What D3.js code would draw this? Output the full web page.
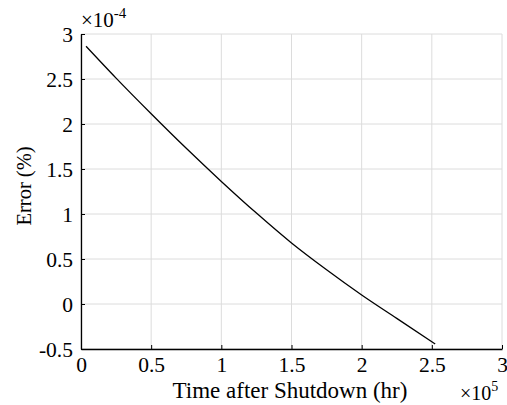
<!DOCTYPE html>
<html>
<head>
<meta charset="utf-8">
<script src="https://cdn.jsdelivr.net/npm/d3@7"></script>
<style>
  body { margin: 0; background: #fff; }
</style>
</head>
<body>
<div id="chart"></div>
<script>
var width = 507
var height = 405
var serif = "'Liberation Serif', 'Times New Roman', 'DejaVu Serif', serif"

// time after shutdown, units of 1e5 hr
var timeVals = [0.036, 0.25, 0.5, 0.75, 1.0, 1.25, 1.5, 1.75, 2.0, 2.25, 2.524]
// error, units of 1e-4 %
var errVals = [2.864, 2.51, 2.114, 1.73, 1.362, 1.01, 0.678, 0.38, 0.10, -0.16, -0.444]

var xTicks = [0, 0.5, 1, 1.5, 2, 2.5, 3]
var yTicks = [-0.5, 0, 0.5, 1, 1.5, 2, 2.5, 3]

var margin = {left: 81, right: 5, top: 34, bottom: 56}

var x = d3.scaleLinear().domain([0, 3]).range([margin.left, width - margin.right])
var y = d3.scaleLinear().domain([-0.5, 3]).range([height - margin.bottom, margin.top])

var svg = d3.select("#chart")
    .append("svg")
        .attr("width", width)
        .attr("height", height)
        .style("font-family", serif)

// grid
svg.append("g")
    .selectAll("line")
    .data(xTicks)
    .enter().append("line")
        .attr("x1", function(d) { return x(d) }).attr("x2", function(d) { return x(d) })
        .attr("y1", y(-0.5)).attr("y2", y(3))
        .attr("stroke", "#dcdcdc")
        .attr("stroke-width", 1)
svg.append("g")
    .selectAll("line")
    .data(yTicks)
    .enter().append("line")
        .attr("y1", function(d) { return y(d) }).attr("y2", function(d) { return y(d) })
        .attr("x1", x(0)).attr("x2", x(3))
        .attr("stroke", "#dcdcdc")
        .attr("stroke-width", 1)

// axes (ticks point inward)
var fmt = function(d) { return d === -0.5 ? "-0.5" : String(d) }

var xAxis = svg.append("g")
    .attr("transform", "translate(0," + y(-0.5) + ")")
    .call(d3.axisBottom(x).tickValues(xTicks).tickFormat(fmt).tickSizeInner(-4).tickSizeOuter(0).tickPadding(8))
var yAxis = svg.append("g")
    .attr("transform", "translate(" + x(0) + ",0)")
    .call(d3.axisLeft(y).tickValues(yTicks).tickFormat(fmt).tickSizeInner(-4).tickSizeOuter(0).tickPadding(8))

svg.selectAll(".domain").attr("stroke", "#000").attr("stroke-width", 1.3)
svg.selectAll(".tick line").attr("stroke", "#000")
svg.selectAll(".tick text")
    .style("font-family", serif)
    .style("font-size", "21.5px")
    .attr("fill", "#000")
xAxis.selectAll(".tick text").attr("dy", "0.72em")
yAxis.selectAll(".tick text").attr("dy", "0.33em")

// exponent labels
var e1 = svg.append("text").attr("x", 81).attr("y", 27).style("font-size", "21px")
e1.append("tspan").text("\u00d710")
e1.append("tspan").style("font-size", "15px").attr("dy", "-9").text("-4")

var e2 = svg.append("text").attr("x", 460).attr("y", 400).style("font-size", "20px")
e2.append("tspan").text("\u00d710")
e2.append("tspan").style("font-size", "14px").attr("dy", "-9").text("5")

// axis titles
svg.append("text")
    .attr("x", 290)
    .attr("y", 398)
    .attr("text-anchor", "middle")
    .style("font-size", "23px")
    .text("Time after Shutdown (hr)")

svg.append("text")
    .attr("transform", "translate(31,186) rotate(-90)")
    .attr("text-anchor", "middle")
    .style("font-size", "20.5px")
    .text("Error (%)")

// curve
var pts = timeVals.map(function(t, i) { return [t, errVals[i]] })
svg.append("path")
    .datum(pts)
    .attr("fill", "none")
    .attr("stroke", "#000")
    .attr("stroke-width", 1.3)
    .attr("d", d3.line()
        .x(function(d) { return x(d[0]) })
        .y(function(d) { return y(d[1]) })
        .curve(d3.curveMonotoneX))
</script>
</body>
</html>
